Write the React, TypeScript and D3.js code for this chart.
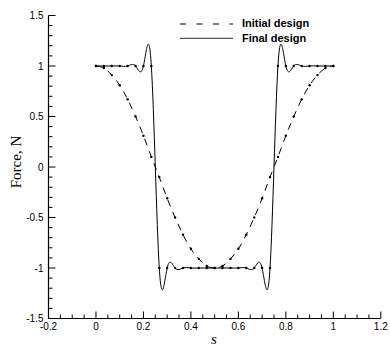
import React from "react";
import * as d3 from "d3";

const sValues = [
  0, 0.0333, 0.0667, 0.1, 0.1333, 0.1667, 0.2, 0.2333, 0.2667, 0.3, 0.3333,
  0.3667, 0.4, 0.4333, 0.4667, 0.5, 0.5333, 0.5667, 0.6, 0.6333, 0.6667, 0.7,
  0.7333, 0.7667, 0.8, 0.8333, 0.8667, 0.9, 0.9333, 0.9667, 1,
];
const initialForce = [
  1, 0.98, 0.91, 0.81, 0.67, 0.5, 0.31, 0.1, -0.1, -0.31, -0.5, -0.67, -0.81,
  -0.91, -0.98, -1, -0.98, -0.91, -0.81, -0.67, -0.5, -0.31, -0.1, 0.1, 0.31,
  0.5, 0.67, 0.81, 0.91, 0.98, 1,
];
const finalForce = [
  1, 1, 1, 1, 1, 1, 1, 1, -1, -1, -1, -1, -1, -1, -1, -1, -1, -1, -1, -1, -1,
  -1, -1, 1, 1, 1, 1, 1, 1, 1, 1,
];
const xTickLabels = ["-0.2", "0", "0.2", "0.4", "0.6", "0.8", "1", "1.2"];
const yTickLabels = ["-1.5", "-1", "-0.5", "0", "0.5", "1", "1.5"];
const legendLabels = ["Initial design", "Final design"];

export default function App() {
  const W = 390;
  const H = 347;
  const x = d3.scaleLinear().domain([-0.2, 1.2]).range([48.5, 380.8]);
  const y = d3.scaleLinear().domain([-1.5, 1.5]).range([318.5, 15.5]);

  const line = d3
    .line<number>()
    .x((_, i) => x(sValues[i]))
    .y((d) => y(d))
    .curve(d3.curveNatural);

  const xMajor = xTickLabels.map(Number);
  const yMajor = yTickLabels.map(Number);
  const xMinor: number[] = [];
  for (let i = 0; i < xMajor.length - 1; i++) {
    for (let j = 1; j < 4; j++) xMinor.push(xMajor[i] + (j * 0.2) / 4);
  }
  const yMinor: number[] = [];
  for (let i = 0; i < yMajor.length - 1; i++) {
    for (let j = 1; j < 5; j++) yMinor.push(yMajor[i] + (j * 0.5) / 5);
  }

  const sans = "Arial, 'Liberation Sans', Helvetica, sans-serif";
  const serif = "'Times New Roman', 'Liberation Serif', Times, serif";
  const x0 = x.range()[0];
  const yb = y.range()[0];

  return (
    <svg
      width={W}
      height={H}
      style={{ position: "absolute", left: 0, top: 0, background: "#fff" }}
    >
      {/* axes */}
      <line x1={x0} x2={x0} y1={y(1.5)} y2={yb} stroke="#000" strokeWidth={1.2} />
      <line x1={x0} x2={x(1.2)} y1={yb} y2={yb} stroke="#000" strokeWidth={1.2} />
      {yMajor.map((v, i) => (
        <g key={"ym" + i}>
          <line x1={x0} x2={x0 + 7} y1={y(v)} y2={y(v)} stroke="#000" strokeWidth={1} />
          <text
            x={x0 - 5}
            y={y(v)}
            dy="0.35em"
            textAnchor="end"
            fontFamily={sans}
            fontSize={10}
            fill="#000"
          >
            {yTickLabels[i]}
          </text>
        </g>
      ))}
      {yMinor.map((v, i) => (
        <line key={"yn" + i} x1={x0} x2={x0 + 4} y1={y(v)} y2={y(v)} stroke="#000" strokeWidth={1} />
      ))}
      {xMajor.map((v, i) => (
        <g key={"xm" + i}>
          <line x1={x(v)} x2={x(v)} y1={yb} y2={yb - 7} stroke="#000" strokeWidth={1} />
          <text
            x={x(v)}
            y={330}
            textAnchor="middle"
            fontFamily={sans}
            fontSize={10}
            fill="#000"
          >
            {xTickLabels[i]}
          </text>
        </g>
      ))}
      {xMinor.map((v, i) => (
        <line key={"xn" + i} x1={x(v)} x2={x(v)} y1={yb} y2={yb - 4} stroke="#000" strokeWidth={1} />
      ))}

      {/* axis titles */}
      <text
        transform={`translate(21,162) rotate(-90)`}
        textAnchor="middle"
        fontFamily={serif}
        fontSize={15}
        fill="#000"
      >
        Force, N
      </text>
      <text
        x={214}
        y={344}
        textAnchor="middle"
        fontFamily={serif}
        fontStyle="italic"
        fontSize={15}
        fill="#000"
      >
        s
      </text>

      {/* curves */}
      <path
        d={line(initialForce) || ""}
        fill="none"
        stroke="#000"
        strokeWidth={1}
        strokeDasharray="7,6"
      />
      <path d={line(finalForce) || ""} fill="none" stroke="#000" strokeWidth={1} />
      {initialForce.map((v, i) => (
        <circle key={"ip" + i} cx={x(sValues[i])} cy={y(v)} r={1.2} fill="#000" />
      ))}
      {finalForce.map((v, i) => (
        <circle key={"fp" + i} cx={x(sValues[i])} cy={y(v)} r={1.2} fill="#000" />
      ))}

      {/* legend */}
      <line x1={180} x2={233} y1={24} y2={24} stroke="#000" strokeWidth={1} strokeDasharray="6,10.5" />
      <line x1={180} x2={233} y1={38.3} y2={38.3} stroke="#555" strokeWidth={1.2} />
      <text x={242} y={27.3} fontFamily={sans} fontWeight="bold" fontSize={11} fill="#000">
        {legendLabels[0]}
      </text>
      <text x={242} y={41.5} fontFamily={sans} fontWeight="bold" fontSize={11} fill="#000">
        {legendLabels[1]}
      </text>
    </svg>
  );
}
